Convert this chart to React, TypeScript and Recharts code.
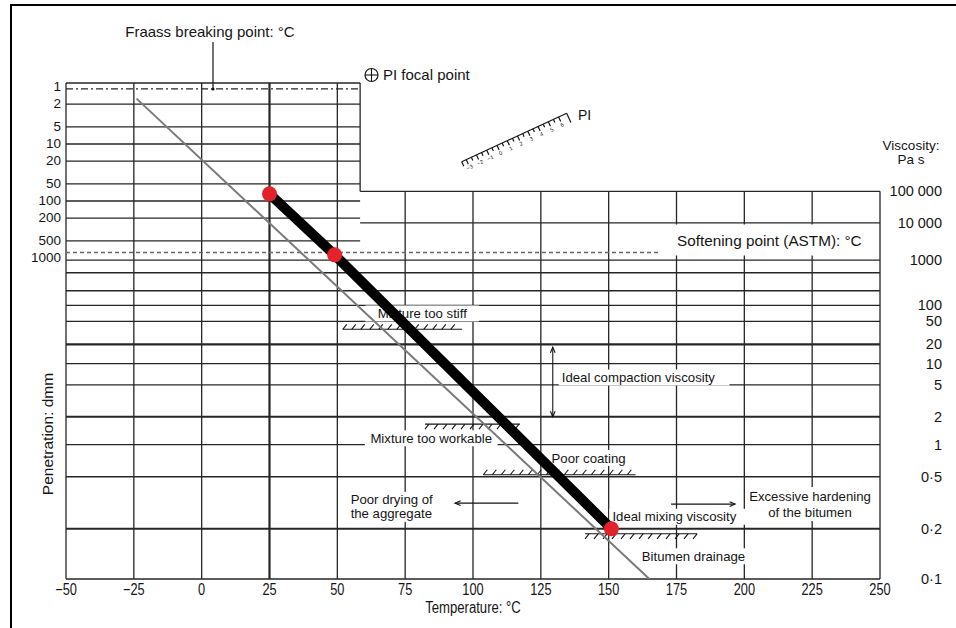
import React from "react";
import { ComposedChart, XAxis, YAxis, Line, ReferenceLine, ReferenceDot } from "recharts";

const FONT = '"Liberation Sans", Arial, Helvetica, sans-serif';
const INK = "#151515";
const RED = "#e3222b";

// temperature axis, °C
const tempTicks = [-50, -25, 0, 25, 50, 75, 100, 125, 150, 175, 200, 225, 250];
// penetration scale (dmm), left side
const penTicks = [1, 2, 5, 10, 20, 50, 100, 200, 500, 1000];
// viscosity scale (Pa s), right side
const viscTicks = [100000, 10000, 1000, 100, 50, 20, 10, 5, 2, 1, 0.5, 0.2, 0.1];
const viscLabels = ["100 000", "10 000", "1000", "100", "50", "20", "10", "5", "2", "1", "0·5", "0·2", "0·1"];
const viscGrid = [100000, 10000, 1000, 500, 200, 100, 50, 20, 10, 5, 2, 1, 0.5, 0.2, 0.1];
const viscHeavy = [20, 2, 0.2];

// special lines (penetration equivalents)
const fraassPen = 1.08;
const softeningPen = 800;
const softeningEndTemp = 169;

// test results of the bitumen (thick black line)
const testTemps = [25, 49, 151];
const testScales = ["pen", "pen", "visc"];
const testValues = [75, 880, 0.2];

// reference bitumen (thin grey line)
const refTemps = [-24, 165];
const refScales = ["pen", "visc"];
const refValues = [1.6, 0.1];

// PI scale labels
const piLabels = [-3, -2, -1, 0, 1, 2, 3, 4, 5, 6];

// annotations: temperature, viscosity (Pa s)
const notes = [
  { lines: ["Mixture too stiff"], t: 81.3, v: 70, anchor: "middle", lh: 14 },
  { lines: ["Ideal compaction viscosity"], t: 132.7, v: 6.3, anchor: "start", lh: 14 },
  { lines: ["Mixture too workable"], t: 84.6, v: 1.16, anchor: "middle", lh: 14 },
  { lines: ["Poor coating"], t: 142.6, v: 0.74, anchor: "middle", lh: 14 },
  { lines: ["Poor drying of", "the aggregate"], t: 54.9, v: 0.286, anchor: "start", lh: 14 },
  { lines: ["Excessive hardening", "of the bitumen"], t: 224.2, v: 0.3, anchor: "middle", lh: 16 },
  { lines: ["Ideal mixing viscosity"], t: 151.4, v: 0.242, anchor: "start", lh: 14 },
  { lines: ["Bitumen drainage"], t: 162.2, v: 0.134, anchor: "start", lh: 14 },
];

const hatches = [
  { from: 52, to: 96, v: 36, side: "up" },
  { from: 82.3, to: 117.3, v: 1.65, side: "down" },
  { from: 103.8, to: 159.9, v: 0.52, side: "up" },
  { from: 141.3, to: 182.6, v: 0.185, side: "down" },
];

const arrows = [
  { t1: 129.4, v1: 18, t2: 129.4, v2: 2.0, both: true },
  { t1: 116.7, v1: 0.305, t2: 93.4, v2: 0.305, both: false },
  { t1: 173, v1: 0.3, t2: 196.6, v2: 0.3, both: false },
];

// chart scale: vertical unit = decades of penetration; viscosity on a log-log scale
const penU = (p: number) => Math.log10(p);
const viscU = (v: number) => 8.979 - 8.398 * Math.log10(Math.log10(v) + 2.1);
const toU = (scale: string, value: number) => (scale === "pen" ? penU(value) : viscU(value));
const U_TOP = -0.07;
const U_BOTTOM = viscU(0.1);
const BOX_RIGHT = 58.4; // right edge of the penetration block

const XTick = (props: any) => {
  const v = props.payload.value;
  const label = v < 0 ? "\u2212" + Math.abs(v) : String(v);
  return (
    <g transform={`translate(${props.x},595)`}>
      <text transform="scale(0.8,1)" textAnchor="middle" fontSize={16} fontFamily={FONT} fill={INK}>
        {label}
      </text>
    </g>
  );
};

const PenTick = (props: any) => {
  const i = penTicks.findIndex((p) => Math.abs(penU(p) - props.payload.value) < 1e-6);
  return (
    <text x={props.x} y={props.y + 4} textAnchor="end" fontSize={13.5} fontFamily={FONT} fill={INK}>
      {i >= 0 ? String(penTicks[i]) : ""}
    </text>
  );
};

const ViscTick = (props: any) => {
  const i = viscTicks.findIndex((v) => Math.abs(viscU(v) - props.payload.value) < 1e-6);
  return (
    <text x={props.x + 62} y={props.y + 5} textAnchor="end" fontSize={14.5} fontFamily={FONT} fill={INK}>
      {i >= 0 ? viscLabels[i] : ""}
    </text>
  );
};

const hatchShape = (side: string) => (p: any) => {
  const xa = Math.min(p.x1, p.x2);
  const xb = Math.max(p.x1, p.x2);
  const y = p.y1;
  const marks = [];
  for (let x = xa + 4; x <= xb; x += 9) {
    marks.push(
      side === "up" ? (
        <line key={x} x1={x - 4} y1={y} x2={x} y2={y - 5} />
      ) : (
        <line key={x} x1={x} y1={y} x2={x - 4} y2={y + 5} />
      )
    );
  }
  return (
    <g stroke={INK} strokeWidth={1.1} fill="none">
      <line x1={xa} y1={y} x2={xb} y2={y} />
      {marks}
    </g>
  );
};

const head = (xt: number, yt: number, xf: number, yf: number) => {
  const a = Math.atan2(yt - yf, xt - xf);
  const l = 6;
  const p1 = [xt - l * Math.cos(a - 0.4), yt - l * Math.sin(a - 0.4)];
  const p2 = [xt - l * Math.cos(a + 0.4), yt - l * Math.sin(a + 0.4)];
  return <polyline points={`${p1[0]},${p1[1]} ${xt},${yt} ${p2[0]},${p2[1]}`} />;
};

const arrowShape = (both: boolean) => (p: any) => (
  <g stroke={INK} strokeWidth={1.1} fill="none">
    <line x1={p.x1} y1={p.y1} x2={p.x2} y2={p.y2} />
    {head(p.x2, p.y2, p.x1, p.y1)}
    {both ? head(p.x1, p.y1, p.x2, p.y2) : null}
  </g>
);

const noteShape = (n: any) => (p: any) => {
  const fs = 13.2;
  const w = Math.max(...n.lines.map((s: string) => s.length)) * fs * 0.48;
  const h = n.lines.length * n.lh;
  const left = n.anchor === "middle" ? p.cx - w / 2 : p.cx;
  const top = p.cy - h / 2;
  return (
    <g>
      <rect x={left - 3} y={top - 1} width={w + 6} height={h + 2} fill="#fff" />
      {n.lines.map((s: string, i: number) => (
        <text
          key={i}
          x={p.cx}
          y={top + n.lh * i + n.lh / 2 + fs * 0.35}
          textAnchor={n.anchor}
          fontSize={fs}
          fontFamily={FONT}
          fill={INK}
        >
          {s}
        </text>
      ))}
    </g>
  );
};

const PiRuler = () => {
  const x0 = 461.7, y0 = 161.7, x1 = 566.7, y1 = 113.3;
  const len = Math.hypot(x1 - x0, y1 - y0);
  const ux = (x1 - x0) / len, uy = (y1 - y0) / len;
  const nx = -uy, ny = ux;
  const step = 11.3;
  const s0 = 5;
  const ang = (Math.atan2(uy, ux) * 180) / Math.PI;
  const pt = (s: number, d: number) => [x0 + ux * s + nx * d, y0 + uy * s + ny * d];
  return (
    <g stroke={INK} strokeWidth={1.2} fill="none">
      <line x1={x0} y1={y0} x2={x1} y2={y1} />
      {piLabels.map((v, i) => {
        const s = s0 + i * step;
        const a = pt(s, 0), b = pt(s, 5), m1 = pt(s + step / 2, 0), m2 = pt(s + step / 2, 3.5);
        const lp = pt(s, 9);
        return (
          <g key={v}>
            <line x1={a[0]} y1={a[1]} x2={b[0]} y2={b[1]} />
            {i < piLabels.length - 1 ? <line x1={m1[0]} y1={m1[1]} x2={m2[0]} y2={m2[1]} /> : null}
            <text
              x={lp[0]}
              y={lp[1]}
              transform={`rotate(${ang},${lp[0]},${lp[1]})`}
              textAnchor="middle"
              dominantBaseline="middle"
              fontSize={5.5}
              fontFamily={FONT}
              fill={INK}
              stroke="none"
            >
              {v < 0 ? "\u2212" + Math.abs(v) : String(v)}
            </text>
          </g>
        );
      })}
      <line x1={pt(0, 0)[0]} y1={pt(0, 0)[1]} x2={pt(0, 5)[0]} y2={pt(0, 5)[1]} />
      <line x1={x1} y1={y1} x2={pt(len, 10)[0]} y2={pt(len, 10)[1]} />
    </g>
  );
};

export default function App() {
  const black = testTemps.map((t, i) => ({ t, u: toU(testScales[i], testValues[i]) }));
  const grey = refTemps.map((t, i) => ({ t, u: toU(refScales[i], refValues[i]) }));

  const segs: { key: string; a: [number, number]; b: [number, number]; w: number; dash?: string; color?: string }[] = [];
  tempTicks.forEach((t) => {
    segs.push({ key: "v" + t, a: [t, t < BOX_RIGHT ? U_TOP : viscU(100000)], b: [t, U_BOTTOM], w: t === 25 ? 2.2 : 1.3 });
  });
  segs.push({ key: "boxr", a: [BOX_RIGHT, U_TOP], b: [BOX_RIGHT, viscU(100000)], w: 1.3 });
  segs.push({ key: "boxt", a: [-50, U_TOP], b: [BOX_RIGHT, U_TOP], w: 1.3 });
  penTicks
    .filter((p) => p > 1 && p < 1000)
    .forEach((p) => segs.push({ key: "p" + p, a: [-50, penU(p)], b: [BOX_RIGHT, penU(p)], w: 1.3 }));
  viscGrid.forEach((v) =>
    segs.push({
      key: "h" + v,
      a: [v >= 10000 ? BOX_RIGHT : -50, viscU(v)],
      b: [250, viscU(v)],
      w: viscHeavy.includes(v) ? 2.1 : 1.3,
    })
  );
  segs.push({ key: "fraass", a: [-50, penU(fraassPen)], b: [BOX_RIGHT, penU(fraassPen)], w: 1.3, dash: "7 3 2 3" });
  segs.push({ key: "soft", a: [-50, penU(softeningPen)], b: [softeningEndTemp, penU(softeningPen)], w: 1.6, dash: "4 3", color: "#666" });

  return (
    <div style={{ position: "absolute", left: 0, top: 0, width: 956, height: 628, background: "#fff" }}>
      <ComposedChart width={956} height={628} margin={{ top: 83, right: 0, bottom: 0, left: 0 }}>
        <XAxis
          xAxisId={0}
          dataKey="t"
          type="number"
          domain={[-50, 250]}
          ticks={tempTicks}
          interval={0}
          height={49}
          axisLine={false}
          tickLine={false}
          tick={XTick}
          allowDataOverflow
        />
        <YAxis
          yAxisId="pen"
          type="number"
          domain={[U_TOP, U_BOTTOM]}
          reversed
          width={66}
          ticks={penTicks.map(penU)}
          interval={0}
          axisLine={false}
          tickLine={false}
          tickSize={0}
          tickMargin={5}
          tick={PenTick}
          allowDataOverflow
        />
        <YAxis
          yAxisId="visc"
          orientation="right"
          type="number"
          domain={[U_TOP, U_BOTTOM]}
          reversed
          width={76}
          ticks={viscTicks.map(viscU)}
          interval={0}
          axisLine={false}
          tickLine={false}
          tickSize={0}
          tickMargin={0}
          tick={ViscTick}
          allowDataOverflow
        />
        {segs.map((s) => (
          <ReferenceLine
            key={s.key}
            yAxisId="pen"
            segment={[{ x: s.a[0], y: s.a[1] }, { x: s.b[0], y: s.b[1] }]}
            stroke={s.color || "#262626"}
            strokeWidth={s.w}
            strokeDasharray={s.dash}
            ifOverflow="visible"
            zIndex={50}
          />
        ))}
        {notes.map((n, i) => (
          <ReferenceDot
            key={"n" + i}
            yAxisId="pen"
            x={n.t}
            y={viscU(n.v)}
            r={0}
            ifOverflow="visible"
            shape={noteShape(n)}
            zIndex={60}
          />
        ))}
        {hatches.map((h, i) => (
          <ReferenceLine
            key={"hz" + i}
            yAxisId="pen"
            segment={[{ x: h.from, y: viscU(h.v) }, { x: h.to, y: viscU(h.v) }]}
            shape={hatchShape(h.side)}
            ifOverflow="visible"
            zIndex={70}
          />
        ))}
        {arrows.map((a, i) => (
          <ReferenceLine
            key={"ar" + i}
            yAxisId="pen"
            segment={[{ x: a.t1, y: viscU(a.v1) }, { x: a.t2, y: viscU(a.v2) }]}
            shape={arrowShape(a.both)}
            ifOverflow="visible"
            zIndex={70}
          />
        ))}
        <Line
          yAxisId="pen"
          data={grey}
          dataKey="u"
          type="linear"
          stroke="#7a7a7a"
          strokeWidth={2}
          dot={false}
          activeDot={false}
          isAnimationActive={false}
        />
        <Line
          yAxisId="pen"
          data={black}
          dataKey="u"
          type="linear"
          stroke="#000"
          strokeWidth={10}
          dot={{ r: 7.5, fill: RED, stroke: RED, strokeWidth: 0 }}
          activeDot={false}
          isAnimationActive={false}
        />
      </ComposedChart>

      <svg width={956} height={628} style={{ position: "absolute", left: 0, top: 0, pointerEvents: "none" }}>
        <rect x={11} y={5} width={980} height={660} fill="none" stroke="#000" strokeWidth={2} />
        <text x={210} y={37} textAnchor="middle" fontSize={15} fontFamily={FONT} fill={INK}>
          Fraass breaking point: °C
        </text>
        <line x1={213} y1={42} x2={213} y2={89} stroke={INK} strokeWidth={1.2} />
        <circle cx={213} cy={89} r={1.6} fill={INK} />
        <circle cx={371.5} cy={75} r={6.5} fill="none" stroke={INK} strokeWidth={1.2} />
        <line x1={365} y1={75} x2={378} y2={75} stroke={INK} strokeWidth={1.1} />
        <line x1={371.5} y1={68.5} x2={371.5} y2={81.5} stroke={INK} strokeWidth={1.1} />
        <text x={383} y={80} fontSize={15} fontFamily={FONT} fill={INK}>
          PI focal point
        </text>
        <PiRuler />
        <text x={578} y={120} fontSize={14} fontFamily={FONT} fill={INK}>
          PI
        </text>
        <text x={911} y={150} textAnchor="middle" fontSize={13.5} fontFamily={FONT} fill={INK}>
          Viscosity:
        </text>
        <text x={911} y={164} textAnchor="middle" fontSize={13.5} fontFamily={FONT} fill={INK}>
          Pa s
        </text>
        <rect x={662} y={224.5} width={215} height={31} fill="#fff" />
        <text x={677} y={246} fontSize={15.3} fontFamily={FONT} fill={INK}>
          Softening point (ASTM): °C
        </text>
        <text
          x={53}
          y={434}
          transform="rotate(-90,53,434)"
          textAnchor="middle"
          fontSize={15.5}
          fontFamily={FONT}
          fill={INK}
        >
          Penetration: dmm
        </text>
        <g transform="translate(473,613)">
          <text transform="scale(0.82,1)" textAnchor="middle" fontSize={16} fontFamily={FONT} fill={INK}>
            Temperature: °C
          </text>
        </g>
      </svg>
    </div>
  );
}
